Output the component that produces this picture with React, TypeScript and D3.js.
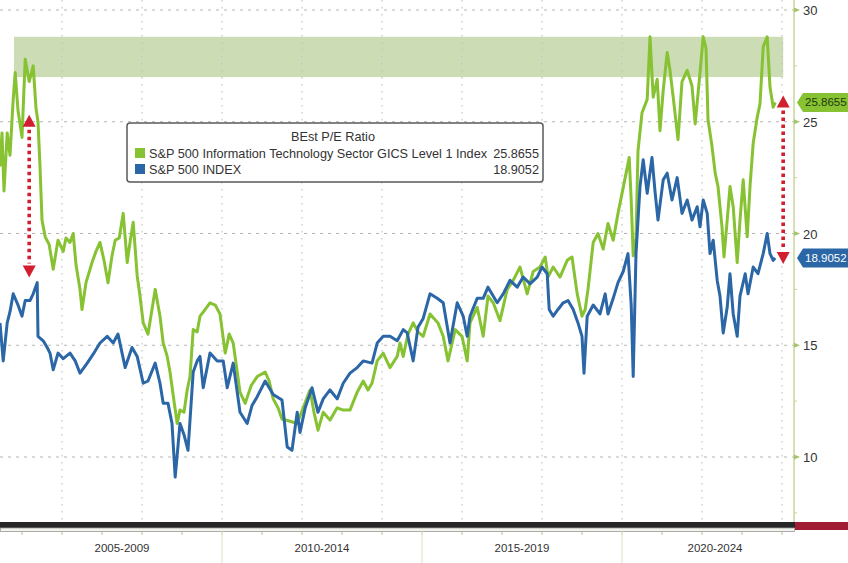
import React from 'react';
import * as d3 from 'd3';

// ---- Data (decimal years, P/E values) ----
const techYears = [2004.45, 2004.5, 2004.55, 2004.63, 2004.7, 2004.78, 2004.83, 2004.9, 2005.0, 2005.08, 2005.18, 2005.28, 2005.35, 2005.4, 2005.45, 2005.5, 2005.58, 2005.68, 2005.78, 2005.9, 2006.03, 2006.1, 2006.2, 2006.28, 2006.35, 2006.45, 2006.5, 2006.6, 2006.75, 2006.85, 2006.95, 2007.05, 2007.15, 2007.25, 2007.33, 2007.43, 2007.53, 2007.63, 2007.7, 2007.78, 2007.88, 2007.95, 2008.03, 2008.15, 2008.25, 2008.33, 2008.45, 2008.53, 2008.63, 2008.7, 2008.8, 2008.88, 2008.95, 2009.05, 2009.13, 2009.2, 2009.28, 2009.38, 2009.45, 2009.58, 2009.7, 2009.83, 2009.95, 2010.08, 2010.18, 2010.28, 2010.38, 2010.45, 2010.58, 2010.73, 2010.88, 2011.08, 2011.18, 2011.28, 2011.4, 2011.5, 2011.7, 2011.88, 2012.03, 2012.2, 2012.3, 2012.4, 2012.53, 2012.7, 2012.88, 2013.03, 2013.2, 2013.38, 2013.53, 2013.65, 2013.75, 2013.88, 2014.03, 2014.2, 2014.38, 2014.45, 2014.53, 2014.65, 2014.78, 2014.9, 2015.03, 2015.2, 2015.4, 2015.53, 2015.65, 2015.83, 2016.0, 2016.13, 2016.2, 2016.38, 2016.53, 2016.65, 2016.78, 2016.95, 2017.13, 2017.28, 2017.45, 2017.63, 2017.78, 2017.95, 2018.08, 2018.15, 2018.28, 2018.45, 2018.63, 2018.75, 2018.88, 2019.0, 2019.08, 2019.15, 2019.28, 2019.4, 2019.53, 2019.65, 2019.78, 2019.9, 2020.08, 2020.18, 2020.23, 2020.28, 2020.35, 2020.4, 2020.5, 2020.63, 2020.7, 2020.78, 2020.88, 2020.95, 2021.03, 2021.13, 2021.2, 2021.28, 2021.4, 2021.5, 2021.63, 2021.75, 2021.83, 2021.95, 2022.03, 2022.1, 2022.15, 2022.25, 2022.33, 2022.4, 2022.5, 2022.55, 2022.63, 2022.7, 2022.78, 2022.88, 2022.95, 2023.03, 2023.13, 2023.2, 2023.28, 2023.38, 2023.45, 2023.53, 2023.63, 2023.7, 2023.78, 2023.83];
const techPE = [23.0, 24.5, 21.9, 24.5, 23.5, 26.0, 27.2, 25.5, 24.3, 27.8, 26.8, 27.5, 25.6, 25.0, 23.0, 20.6, 19.85, 19.5, 18.4, 19.7, 19.2, 19.8, 19.6, 20.0, 18.6, 17.5, 16.6, 17.8, 18.7, 19.2, 19.6, 18.8, 17.8, 19.0, 19.7, 19.8, 20.9, 18.7, 19.6, 20.5, 18.1, 17.2, 16.0, 15.5, 16.6, 17.5, 16.3, 15.1, 14.5, 13.8, 12.5, 11.5, 12.1, 12.0, 13.0, 13.6, 15.7, 15.6, 16.3, 16.6, 16.9, 16.8, 16.4, 14.65, 15.5, 15.1, 13.8, 12.9, 12.4, 13.2, 13.6, 13.8, 13.4, 12.6, 12.2, 11.7, 11.6, 11.5, 12.2, 13.0, 12.0, 11.2, 12.0, 11.65, 12.2, 12.1, 12.1, 12.9, 13.4, 13.0, 13.3, 14.3, 14.65, 14.0, 14.5, 15.1, 14.5, 15.5, 16.0, 15.6, 15.4, 16.4, 16.0, 15.4, 14.3, 15.7, 15.4, 14.3, 16.0, 16.7, 15.4, 17.2, 16.9, 16.1, 17.5, 17.9, 18.5, 17.3, 18.3, 18.5, 18.95, 18.05, 18.5, 18.05, 18.8, 18.95, 17.3, 16.3, 16.6, 17.5, 19.6, 20.0, 19.3, 20.45, 19.7, 20.9, 22.5, 23.4, 21.5, 19.0, 19.8, 23.7, 25.4, 26.0, 28.8, 26.1, 26.9, 24.6, 26.4, 28.1, 27.3, 26.1, 24.2, 26.8, 27.3, 26.6, 24.9, 27.2, 28.8, 28.3, 25.1, 23.9, 22.7, 22.1, 20.3, 18.95, 20.6, 22.1, 21.2, 18.7, 20.6, 22.4, 19.85, 22.1, 24.05, 25.2, 25.8, 28.35, 28.8, 26.55, 25.65, 25.8655];

const spxYears = [2004.45, 2004.53, 2004.63, 2004.7, 2004.78, 2004.9, 2005.0, 2005.08, 2005.2, 2005.28, 2005.38, 2005.4, 2005.53, 2005.63, 2005.7, 2005.78, 2005.9, 2006.03, 2006.2, 2006.33, 2006.45, 2006.63, 2006.78, 2006.95, 2007.13, 2007.28, 2007.4, 2007.58, 2007.75, 2007.88, 2008.03, 2008.15, 2008.33, 2008.45, 2008.53, 2008.65, 2008.75, 2008.83, 2008.9, 2008.95, 2009.05, 2009.15, 2009.28, 2009.38, 2009.45, 2009.53, 2009.7, 2009.88, 2010.03, 2010.13, 2010.28, 2010.45, 2010.63, 2010.75, 2010.88, 2011.08, 2011.28, 2011.5, 2011.63, 2011.75, 2011.88, 2011.95, 2012.08, 2012.25, 2012.4, 2012.53, 2012.7, 2012.88, 2013.03, 2013.2, 2013.38, 2013.53, 2013.75, 2013.88, 2014.03, 2014.2, 2014.38, 2014.53, 2014.63, 2014.78, 2014.9, 2015.03, 2015.2, 2015.38, 2015.53, 2015.7, 2015.88, 2016.03, 2016.13, 2016.2, 2016.38, 2016.53, 2016.65, 2016.88, 2017.03, 2017.2, 2017.38, 2017.53, 2017.7, 2017.88, 2018.0, 2018.13, 2018.18, 2018.28, 2018.4, 2018.53, 2018.65, 2018.78, 2018.9, 2019.0, 2019.05, 2019.13, 2019.28, 2019.45, 2019.58, 2019.65, 2019.78, 2019.9, 2020.03, 2020.15, 2020.23, 2020.28, 2020.35, 2020.45, 2020.53, 2020.63, 2020.75, 2020.83, 2020.9, 2021.03, 2021.13, 2021.25, 2021.38, 2021.5, 2021.63, 2021.75, 2021.88, 2021.95, 2022.03, 2022.13, 2022.2, 2022.28, 2022.38, 2022.45, 2022.53, 2022.63, 2022.7, 2022.78, 2022.88, 2022.95, 2023.08, 2023.15, 2023.28, 2023.4, 2023.53, 2023.63, 2023.7, 2023.78, 2023.83];
const spxPE = [16.0, 14.3, 16.0, 16.5, 17.3, 16.8, 16.3, 17.0, 17.0, 17.3, 17.8, 15.4, 15.2, 14.9, 14.65, 13.9, 14.65, 14.4, 14.65, 14.3, 13.75, 14.2, 14.6, 15.1, 15.4, 15.1, 15.5, 14.0, 14.9, 14.5, 13.3, 13.4, 14.2, 13.3, 12.4, 12.4, 11.5, 9.1, 10.5, 11.5, 11.0, 10.3, 13.8, 14.3, 14.5, 13.1, 14.65, 14.3, 14.3, 13.1, 14.2, 12.0, 11.5, 12.3, 12.7, 13.4, 12.8, 12.55, 10.45, 10.3, 12.0, 11.1, 12.2, 13.1, 12.0, 12.6, 13.0, 12.6, 13.3, 13.75, 14.0, 14.3, 14.2, 15.1, 15.4, 15.4, 15.2, 15.7, 15.55, 14.3, 15.8, 16.2, 17.3, 17.1, 16.9, 15.1, 16.9, 16.3, 15.4, 16.3, 17.1, 17.1, 17.6, 16.9, 17.3, 17.9, 17.6, 18.05, 17.75, 18.05, 18.5, 18.2, 16.6, 16.3, 16.6, 16.9, 17.0, 16.6, 16.0, 15.4, 13.75, 16.3, 16.8, 16.4, 17.3, 16.4, 17.1, 17.8, 18.3, 19.1, 16.8, 13.6, 19.1, 22.1, 23.3, 21.8, 23.4, 21.8, 20.6, 22.4, 22.7, 21.5, 22.5, 20.9, 21.5, 20.6, 21.2, 20.3, 21.5, 20.9, 19.1, 19.7, 17.9, 17.2, 15.55, 16.7, 18.2, 16.4, 15.4, 17.2, 18.2, 17.3, 18.5, 18.2, 19.1, 20.0, 19.1, 18.8, 18.9052];

const seriesNames = ['S&P 500 Information Technology Sector GICS Level 1 Index', 'S&P 500 INDEX'];
const lastValues = ['25.8655', '18.9052'];
const legendTitle = 'BEst P/E Ratio';
const yTicks = [10, 15, 20, 25, 30];
const yMinorTicks = [7.5, 12.5, 17.5, 22.5, 27.5];
const gridYears = [2006, 2008, 2010, 2012, 2014, 2016, 2018, 2020, 2022, 2024];
const periodLabels = ['2005-2009', '2010-2014', '2015-2019', '2020-2024'];
const periodStarts = [2005, 2010, 2015, 2020];
const bandRange = [27.0, 28.8];
const bandYears = [2004.8, 2024.03];
const arrowYears = [2005.18, 2024.03];
const arrowTops = [25.0, 25.8655];
const arrowBottoms = [18.3, 18.9052];

const GREEN = '#86c232';
const BLUE = '#2b66a6';
const RED = '#d11f2f';

export default function App() {
  const W = 848, H = 563;
  const plotRight = 794, plotBottom = 521;
  const x = d3.scaleLinear().domain([2005, 2025]).range([22, 822]);
  const y = d3.scaleLinear().domain([10, 30]).range([457, 10]);
  const line = d3.line<[number, number]>().x(d => x(d[0])).y(d => y(d[1]));
  const tech = techYears.map((t, i) => [t, techPE[i]] as [number, number]);
  const spx = spxYears.map((t, i) => [t, spxPE[i]] as [number, number]);
  const font = 'Liberation Sans, Arial, sans-serif';
  const yearTicks = d3.range(2005, 2025);

  const arrow = (i: number) => {
    const ax = x(arrowYears[i]);
    const yt = y(arrowTops[i]);
    const yb = y(arrowBottoms[i]);
    return (
      <g key={'arr' + i}>
        <line x1={ax} x2={ax} y1={yt + 8} y2={yb - 8} stroke={RED} strokeWidth={3.6} strokeDasharray="3.6 3.4" />
        <path d={`M${ax},${yt - 7} L${ax - 6.5},${yt + 5} L${ax + 6.5},${yt + 5} Z`} fill={RED} />
        <path d={`M${ax},${yb + 6} L${ax - 6.5},${yb - 6} L${ax + 6.5},${yb - 6} Z`} fill={RED} />
      </g>
    );
  };

  const valueLabel = (val: number, text: string, fill: string, color: string) => {
    const cy = y(val);
    return (
      <g>
        <path d={`M797,${cy} L803,${cy - 9.5} L848,${cy - 9.5} L848,${cy + 9.5} L803,${cy + 9.5} Z`} fill={fill} />
        <text x={805} y={cy + 4} fontSize={11.5} fontFamily={font} fill={color}>{text}</text>
      </g>
    );
  };

  return (
    <svg width={W} height={H} style={{ position: 'absolute', left: 0, top: 0, background: '#fff' }}>
      <defs>
        <clipPath id="plot"><rect x={0} y={0} width={plotRight} height={plotBottom} /></clipPath>
      </defs>
      <rect x={0} y={0} width={W} height={H} fill="#fff" />
      {/* band */}
      <rect x={x(bandYears[0])} y={y(bandRange[1])} width={x(bandYears[1]) - x(bandYears[0])}
        height={y(bandRange[0]) - y(bandRange[1])} fill="#c6d9ad" opacity={0.9} />
      {/* grid */}
      {yTicks.map(t => (
        <line key={'h' + t} x1={0} x2={plotRight} y1={y(t)} y2={y(t)} stroke="#b5b5b5" strokeWidth={1} strokeDasharray="3 5" />
      ))}
      {gridYears.map(g => (
        <line key={'v' + g} x1={x(g)} x2={x(g)} y1={0} y2={plotBottom} stroke="#c2c2c2" strokeWidth={1.2} strokeDasharray="1.5 5.5" />
      ))}
      {/* lines */}
      <g clipPath="url(#plot)">
        <path d={line(tech) || ''} fill="none" stroke={GREEN} strokeWidth={3} strokeLinejoin="round" />
        <path d={line(spx) || ''} fill="none" stroke={BLUE} strokeWidth={3} strokeLinejoin="round" />
      </g>
      {/* arrows */}
      {arrow(0)}
      {arrow(1)}
      {/* legend */}
      <g>
        <rect x={127} y={123} width={416} height={59} rx={3} fill="#fff" stroke="#5a5a5a" strokeWidth={1.5} />
        <text x={333} y={141} textAnchor="middle" fontSize={12.7} fontFamily={font} fill="#333">{legendTitle}</text>
        <rect x={135} y={148} width={10} height={10} fill={GREEN} />
        <text x={149} y={157.5} fontSize={12.7} fontFamily={font} fill="#333">{seriesNames[0]}</text>
        <text x={539} y={157.5} textAnchor="end" fontSize={12.7} fontFamily={font} fill="#333">{lastValues[0]}</text>
        <rect x={135} y={164} width={10} height={10} fill={BLUE} />
        <text x={149} y={173.5} fontSize={12.7} fontFamily={font} fill="#333">{seriesNames[1]}</text>
        <text x={539} y={173.5} textAnchor="end" fontSize={12.7} fontFamily={font} fill="#333">{lastValues[1]}</text>
      </g>
      {/* right axis */}
      <line x1={plotRight} x2={plotRight} y1={0} y2={530} stroke="#c9d69a" strokeWidth={1.5} />
      {yMinorTicks.map(t => (
        <line key={'m' + t} x1={plotRight} x2={plotRight + 3} y1={y(t)} y2={y(t)} stroke="#c9d69a" strokeWidth={1} />
      ))}
      {yTicks.map(t => (
        <g key={'yt' + t}>
          <path d={`M${plotRight},${y(t) - 2.5} L${plotRight + 6},${y(t)} L${plotRight},${y(t) + 2.5} Z`} fill="#a9c26a" />
          <text x={803} y={y(t) + 5} fontSize={13} fontFamily={font} fill="#333">{t}</text>
        </g>
      ))}
      {valueLabel(techPE[techPE.length - 1], lastValues[0], GREEN, '#1e3a10')}
      {valueLabel(spxPE[spxPE.length - 1], lastValues[1], BLUE, '#ffffff')}
      {/* bottom navigator strip */}
      <rect x={0} y={522} width={plotRight + 1} height={6} fill="#262626" />
      <rect x={0.5} y={528} width={plotRight} height={3.5} fill="#f4f4ee" stroke="#9a9a9a" strokeWidth={0.8} />
      <rect x={plotRight + 1} y={522} width={W - plotRight - 1} height={8} fill="#a11d36" />
      {yearTicks.map(t => (
        <line key={'xt' + t} x1={x(t)} x2={x(t)} y1={532} y2={535} stroke="#b8c48e" strokeWidth={1} />
      ))}
      {periodStarts.slice(1).map(p => (
        <line key={'sep' + p} x1={x(p)} x2={x(p)} y1={530} y2={H} stroke="#dfe6c8" strokeWidth={1.2} />
      ))}
      {periodLabels.map((l, i) => {
        const a = x(periodStarts[i]);
        const b = Math.min(x(periodStarts[i] + 5), 808);
        return (
          <text key={l} x={(a + b) / 2} y={552} textAnchor="middle" fontSize={11.5} fontFamily={font} fill="#333">{l}</text>
        );
      })}
    </svg>
  );
}
